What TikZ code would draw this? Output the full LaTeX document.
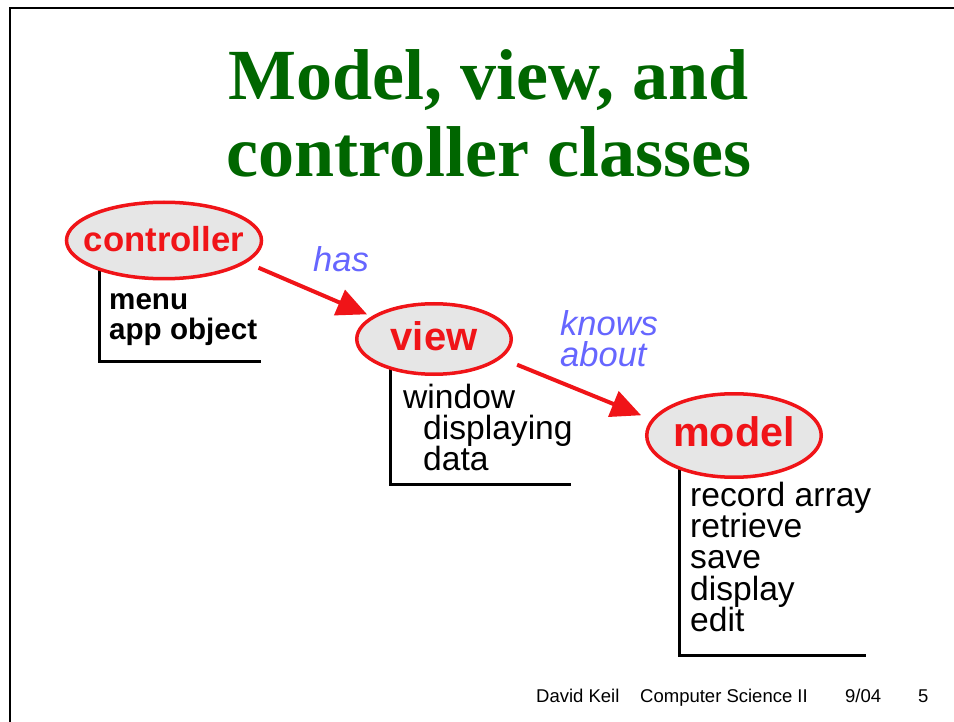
\documentclass[tikz,border=0pt]{standalone}
\usepackage{fontspec}
\setmainfont{Liberation Serif}
\setsansfont{Liberation Sans}
\usetikzlibrary{shapes.geometric,arrows.meta,backgrounds}
\definecolor{titlegreen}{RGB}{0,102,0}
\definecolor{classred}{RGB}{240,20,24}
\definecolor{classfill}{RGB}{230,230,230}
\definecolor{relblue}{RGB}{102,102,255}
\newcommand{\fsz}[1]{\fontsize{#1}{#1}\selectfont}

\begin{document}
\begin{tikzpicture}[x=1pt,y=-1pt,
  cls/.style={ellipse, draw=classred, line width=3.5pt, fill=classfill,
    inner xsep=-16pt, inner ysep=0pt, text=classred,
    text height=22pt, text depth=0pt},
  title/.style={anchor=base, inner sep=0pt, text=titlegreen,
    font=\rmfamily\bfseries\fsz{72}},
  member/.style={anchor=base west, inner sep=0pt, font=\sffamily\fsz{33.6}},
  boldmember/.style={anchor=base west, inner sep=0pt, font=\sffamily\bfseries\fsz{29.6}},
  rel/.style={anchor=base west, inner sep=0pt, text=relblue,
    font=\sffamily\itshape\fsz{34.5}},
  relarrow/.style={draw=classred, line width=4pt,
    -{Triangle[length=30pt,width=27pt]}},
  bracket/.style={draw=black, line width=3pt},
  foot/.style={anchor=base west, inner sep=0pt, font=\sffamily\fsz{18.5}}
]
\useasboundingbox (0,0) rectangle (954,722);

% title
\node[title] (t1) at (489,99.5) {Model, view, and};
\node[title] (t2) at (489,176.7) {controller classes};

% the three classes
\node[cls, minimum width=195pt, minimum height=76.5pt,
  font=\sffamily\bfseries\fsz{34.7}] (ctrl) at (164,240.5) {controller};
\node[cls, minimum width=154.5pt, minimum height=70.5pt,
  font=\sffamily\bfseries\fsz{40}] (view) at (434,339) {view};
\node[cls, minimum width=174.5pt, minimum height=83.5pt,
  font=\sffamily\bfseries\fsz{41.3}] (model) at (734,435.5) {model};

% members of each class
\node[boldmember] (c1) at (109,309) {menu};
\node[boldmember] (c2) at (109,339) {app object};

\node[member] (v1) at (403,408) {window};
\node[member] (v2) at (423,439) {displaying};
\node[member] (v3) at (423,470) {data};

\node[member] (m1) at (690,506) {record array};
\node[member] (m2) at (690,537.3) {retrieve};
\node[member] (m3) at (690,568.6) {save};
\node[member] (m4) at (690,600) {display};
\node[member] (m5) at (690,631.3) {edit};

% relations
\draw[relarrow, shorten <=13pt, shorten >=5pt] (ctrl.-15.5) -- (view.160.6);
\draw[relarrow, shorten <=17pt, shorten >=11pt] (view.-16.8) -- (model.169.6);
\node[rel] (has) at (313,271.7) {has};
\node[rel] (kn1) at (560,335.7) {knows};
\node[rel] (kn2) at (560,366.7) {about};

% footer
\node[foot] (f1) at (536,702.3) {David Keil};
\node[foot] (f2) at (640,702.3) {Computer Science II};
\node[foot] (f3) at (845,702.3) {9/04};
\node[foot] (f4) at (918,702.3) {5};

% page, frame and member brackets behind the ellipses
\coordinate (cb) at (99.3,361.5);
\coordinate (ce) at (261,361.5);
\coordinate (vb) at (390,484);
\coordinate (ve) at (571,484);
\coordinate (mb) at (679,655);
\coordinate (me) at (866,655);
\coordinate (fa) at (10,722);
\coordinate (fb) at (10,8);
\coordinate (fc) at (954,8);
\begin{pgfonlayer}{background}
  \fill[white] (0,0) rectangle (954,722);
  \draw[line width=2.5pt] (fa) -- (fb) -- (fc);
  \draw[bracket] (ctrl.center -| cb) |- (ce);
  \draw[bracket] (view.center -| vb) |- (ve);
  \draw[bracket] (model.center -| mb) |- (me);
\end{pgfonlayer}
\end{tikzpicture}
\end{document}
